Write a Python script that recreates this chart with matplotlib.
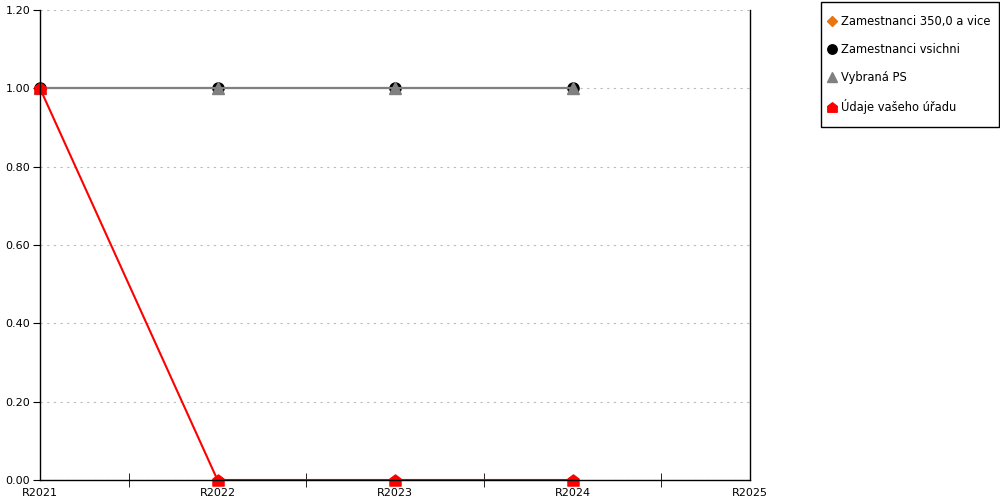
# share per year chart

import numpy as np
import matplotlib.pyplot as plt
from matplotlib.path import Path
from matplotlib.patches import Rectangle

years = ['R2021', 'R2022', 'R2023', 'R2024', 'R2025']
zam_350 = [np.nan, np.nan, np.nan, np.nan, np.nan]
zam_vsichni = [1.0, 1.0, 1.0, 1.0, np.nan]
vybrana_ps = [1.0, 1.0, 1.0, 1.0, np.nan]
vas_urad = [1.0, 0.0, 0.0, 0.0, np.nan]

# house shaped marker for the office series
house = Path([(-1, -1), (1, -1), (1, 0.25), (0, 1), (-1, 0.25), (-1, -1)],
             [Path.MOVETO, Path.LINETO, Path.LINETO, Path.LINETO, Path.LINETO, Path.CLOSEPOLY])

plt.rcParams['font.family'] = ['DejaVu Sans']
plt.rcParams['font.size'] = 8

fig = plt.figure(figsize=(10, 5), dpi=100)
ax = fig.add_axes([0.04, 0.04, 0.71, 0.94])

x = np.arange(len(years))
ax.plot(x, zam_350, color='#e87511', marker='D', markersize=6, lw=1.5, clip_on=False, label='Zamestnanci 350,0 a vice')
ax.plot(x, zam_vsichni, color='black', marker='o', markersize=8, lw=1.5, clip_on=False, label='Zamestnanci vsichni')
ax.plot(x, vybrana_ps, color='#808080', marker='^', markersize=8, lw=1.5, clip_on=False, label='Vybraná PS')
ax.plot(x, vas_urad, color='#ff0000', marker=house, markersize=8, lw=1.5, clip_on=False, label='Údaje vašeho úřadu')

ax.set_xlim(0, 4)
ax.set_ylim(0, 1.2)
ax.set_yticks(np.arange(0, 1.21, 0.2))
ax.set_yticklabels(['%.2f' % v for v in np.arange(0, 1.21, 0.2)])
ax.set_xticks(x)
ax.set_xticklabels(years)
ax.set_xticks(np.arange(0.5, 4, 1), minor=True)
ax.tick_params(axis='x', which='major', length=0, pad=6)
ax.tick_params(axis='x', which='minor', direction='inout', length=10)
ax.tick_params(axis='y', direction='out', length=5, pad=2)
ax.grid(axis='y', color='#bbbbbb', linestyle=(0, (2, 4)), lw=0.8)
ax.spines['top'].set_visible(False)
for s in ['left', 'right', 'bottom']:
    ax.spines[s].set_color('black')
    ax.spines[s].set_linewidth(1)

# legend box drawn by hand so the padding matches
fig.patches.append(Rectangle((0.821, 0.746), 0.178, 0.25, transform=fig.transFigure,
                             fill=False, edgecolor='black', lw=1))
leg = ax.legend(loc='upper left', bbox_to_anchor=(0.824, 0.976), bbox_transform=fig.transFigure,
                frameon=False, handlelength=0.8, handletextpad=0.4,
                labelspacing=1.3, borderpad=0.3, borderaxespad=0, fontsize=8.3, markerscale=0.85)
for h in leg.legend_handles:
    h.set_linestyle('none')

fig.savefig('out.png')
